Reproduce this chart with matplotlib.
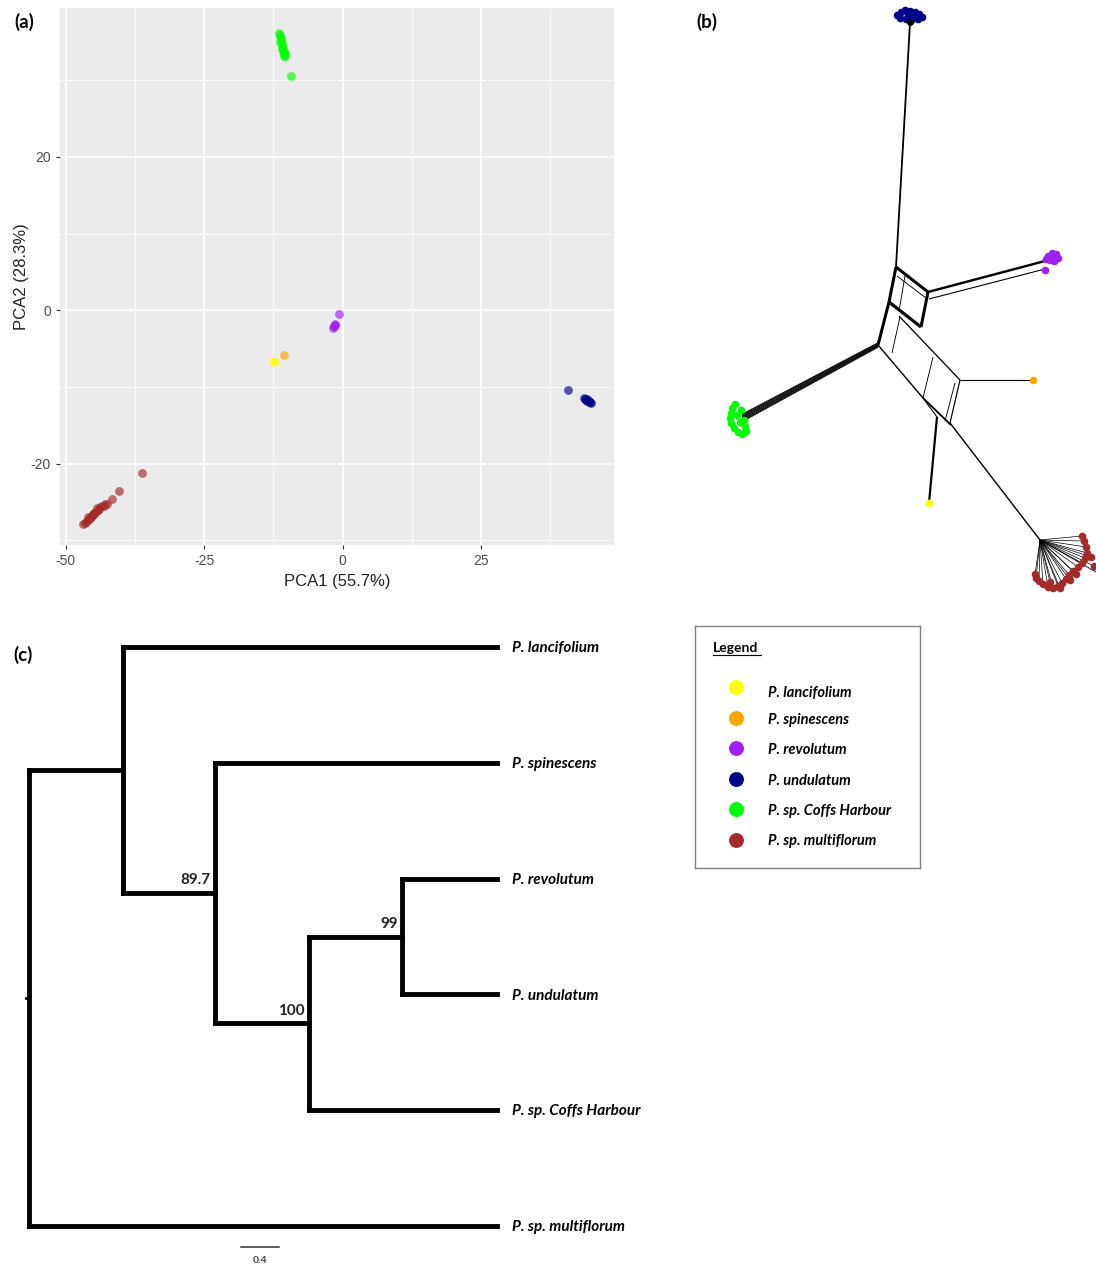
import numpy as np
import matplotlib
matplotlib.use("Agg")
import matplotlib.pyplot as plt
from matplotlib.collections import LineCollection

plt.rcParams['font.family'] = ['Lato', 'DejaVu Sans']
plt.rcParams['axes.unicode_minus'] = False

# ---- species / colours
species = ['P. lancifolium', 'P. spinescens', 'P. revolutum', 'P. undulatum',
           'P. sp. Coffs Harbour', 'P. sp. multiflorum']
colors = ['#FFFF00', '#FFA500', '#A020F0', '#00008B', '#00FF00', '#A52A2A']

# ---- (a) PCA scores
pca_lanc_x = [-12.4, -12.3]
pca_lanc_y = [-6.75, -6.6]
pca_spin_x = [-10.5]
pca_spin_y = [-5.8]
pca_revo_x = [-1.7, -1.5, -1.4, -1.6, -1.3, -0.6]
pca_revo_y = [-2.3, -2.0, -1.8, -2.1, -1.9, -0.5]
pca_undu_x = [40.7, 43.5, 43.8, 44.0, 44.2, 44.4, 44.6, 44.8, 44.1, 44.5]
pca_undu_y = [-10.4, -11.5, -11.6, -11.7, -11.8, -11.9, -12.0, -12.1, -11.6, -11.8]
pca_coffs_x = [-11.4, -11.3, -11.2, -11.1, -11.2, -11.0, -10.9, -10.8, -10.9, -10.7,
               -10.6, -10.5, -10.6, -10.4, -10.3, -9.3]
pca_coffs_y = [36.2, 35.9, 35.6, 35.3, 35.0, 34.8, 34.5, 34.2, 34.0, 33.8,
               33.6, 33.4, 33.2, 33.5, 33.1, 30.6]
pca_multi_x = [-46.8, -46.5, -46.3, -46.0, -45.8, -45.6, -45.4, -45.2, -45.0, -44.8,
               -44.6, -44.4, -44.2, -44.0, -43.7, -43.4, -43.1, -42.8, -42.5, -41.7,
               -40.3, -36.2, -45.9, -45.1, -44.3]
pca_multi_y = [-27.9, -27.7, -27.6, -27.4, -27.2, -27.1, -26.9, -26.8, -26.6, -26.5,
               -26.3, -26.2, -26.0, -25.9, -25.7, -25.5, -25.5, -25.3, -25.2, -24.6,
               -23.6, -21.2, -27.0, -26.5, -25.8]
pca_x = [pca_lanc_x, pca_spin_x, pca_revo_x, pca_undu_x, pca_coffs_x, pca_multi_x]
pca_y = [pca_lanc_y, pca_spin_y, pca_revo_y, pca_undu_y, pca_coffs_y, pca_multi_y]

# ---- (b) network layout (coordinates)
net_edges = [  # x0, y0, x1, y1, width
    (910, 23, 896, 267, 1.8),
    (896, 267, 928, 292, 3.0), (928, 292, 921, 327, 3.0),
    (921, 327, 889, 302, 3.2), (889, 302, 896, 267, 3.0),
    (897, 276, 926, 298, 0.9), (905, 276, 899, 311, 0.9),
    (889, 302, 878, 345, 3.0),
    (928, 292, 1045, 261, 2.4), (929, 299, 1045, 269, 1.1),
    (878, 345, 923, 398, 1.4), (899, 316, 960, 380, 1.3),
    (900, 317, 892, 353, 0.9), (933, 357, 923, 398, 0.9),
    (960, 380, 950, 423, 1.2), (955, 383, 945, 421, 0.9),
    (923, 398, 951, 425, 1.8), (923, 398, 937, 417, 1.1),
    (960, 380, 1033, 380, 1.1),
    (937, 417, 929, 503, 2.2),
    (950, 423, 1040, 540, 1.4),
]
green_bundle = [-3, -2, -1, 0, 1, 2, 3]
net_blue_x = [897, 901, 905, 910, 915, 919, 922, 918, 912, 906, 900, 908, 914]
net_blue_y = [15, 12, 10, 11, 12, 14, 17, 19, 19, 19, 18, 15, 16]
net_purple_x = [1048, 1052, 1056, 1058, 1054, 1050, 1046, 1055, 1045]
net_purple_y = [256, 253, 254, 258, 261, 260, 259, 257, 270]
net_green_x = [735, 732, 731, 730, 731, 734, 738, 742, 746, 745, 741, 737, 740, 744]
net_green_y = [404, 408, 413, 418, 423, 428, 432, 434, 431, 426, 410, 415, 422, 420]
net_orange_x, net_orange_y = [1033], [380]
net_yellow_x, net_yellow_y = [929], [503]
net_red_x = [1082, 1084, 1086, 1087, 1085, 1082, 1078, 1073, 1069, 1066, 1062, 1058,
             1053, 1048, 1043, 1039, 1036, 1035, 1091, 1094, 1070, 1060, 1076, 1050]
net_red_y = [536, 541, 547, 553, 558, 563, 567, 571, 575, 579, 583, 586,
             588, 587, 584, 581, 578, 574, 557, 566, 580, 588, 574, 582]

# ---- (c) tree
tree_edges = [
    ('root', 'A', 1.0), ('root', 'P. sp. multiflorum', 4.98),
    ('A', 'P. lancifolium', 3.98), ('A', 'B', 0.98),
    ('B', 'P. spinescens', 3.0), ('B', 'C', 1.0),
    ('C', 'D', 0.99), ('C', 'P. sp. Coffs Harbour', 2.0),
    ('D', 'P. revolutum', 1.01), ('D', 'P. undulatum', 1.01),
]
support = {'B': '89.7', 'C': '100', 'D': '99'}
scale_len = 0.4

W, H = 1096, 1267
fig = plt.figure(figsize=(W / 100, H / 100), dpi=100)

# ================= (a)
ax = fig.add_axes([60 / W, 1 - 545 / H, 554 / W, 537 / H])
ax.set_facecolor('#EBEBEB')
for xs, ys, c in zip(pca_x, pca_y, colors):
    ax.scatter(xs, ys, s=40, color=c, alpha=0.65, lw=0, zorder=3)
ax.set_xlim(-51, 49)
ax.set_ylim(-30.6, 39.4)
ax.set_xticks([-50, -25, 0, 25])
ax.set_yticks([-20, 0, 20])
ax.set_xticks([-37.5, -12.5, 12.5, 37.5], minor=True)
ax.set_yticks([-30, -10, 10, 30], minor=True)
ax.grid(True, which='major', color='white', lw=1.1)
ax.grid(True, which='minor', color='white', lw=0.55)
ax.set_axisbelow(True)
for s in ax.spines.values():
    s.set_visible(False)
ax.tick_params(which='major', length=3, color='#333333', labelcolor='#4D4D4D',
               labelsize=10, width=0.8)
ax.tick_params(which='minor', length=0)
for lab in ax.get_xticklabels() + ax.get_yticklabels():
    lab.set_family('Liberation Sans')
ax.set_xlabel('PCA1 (55.7%)', family='Liberation Sans', fontsize=12, labelpad=4,
              color='#222222')
ax.set_ylabel('PCA2 (28.3%)', family='Liberation Sans', fontsize=12, labelpad=1,
              color='#222222')

# ================= (b)
axb = fig.add_axes([680 / W, 1 - 600 / H, 416 / W, 600 / H])
axb.set_xlim(680, 1096)
axb.set_ylim(600, 0)
axb.axis('off')
segs = [[(e[0], e[1]), (e[2], e[3])] for e in net_edges]
axb.add_collection(LineCollection(segs, colors='black',
                                  linewidths=[e[4] * 0.72 for e in net_edges], zorder=2))
gsegs = [[(878, 345 + d * 0.7), (742, 418 + d * 1.2)] for d in green_bundle]
axb.add_collection(LineCollection(gsegs, colors='#111111', linewidths=0.9, zorder=2))
fan = [[(1040, 540), (x, y)] for x, y in zip(net_red_x, net_red_y)]
axb.add_collection(LineCollection(fan, colors='black', linewidths=0.5, zorder=2))
axb.plot([1040, 1096], [540, 572], color='black', lw=0.6, zorder=2)
net_pts = [(net_yellow_x, net_yellow_y), (net_orange_x, net_orange_y),
           (net_purple_x, net_purple_y), (net_blue_x, net_blue_y),
           (net_green_x, net_green_y), (net_red_x, net_red_y)]
for (xs, ys), c in zip(net_pts, colors):
    axb.scatter(xs, ys, s=30, color=c, lw=0, zorder=3)
axb.plot([910], [22], 'o', color='black', ms=4, zorder=4)

# ================= legend box
axl = fig.add_axes([695 / W, 1 - 868 / H, 225 / W, 242 / H])
axl.set_xlim(0, 225)
axl.set_ylim(242, 0)
axl.set_xticks([])
axl.set_yticks([])
for s in axl.spines.values():
    s.set_color('#808080')
    s.set_linewidth(1.0)
axl.text(18, 22, 'Legend', fontsize=10, fontweight='bold', va='center', ha='left')
axl.plot([18, 66], [29, 29], color='black', lw=0.8)
for i, (name, c) in enumerate(zip(species, colors)):
    yy = 61 + i * 30.5
    axl.scatter([41], [yy], s=115, color=c, lw=0)
    axl.text(73, yy + (6 if i == 0 else 2), name, fontsize=10.5, fontweight='bold',
             style='italic', va='center', ha='left')

# ================= (c)
children = {}
blen = {}
for p, ch, l in tree_edges:
    children.setdefault(p, []).append(ch)
    blen[ch] = l
tip_order = ['P. lancifolium', 'P. spinescens', 'P. revolutum', 'P. undulatum',
             'P. sp. Coffs Harbour', 'P. sp. multiflorum']
node_x = {'root': 0.0}
node_y = {}


def layout(n):
    for ch in children.get(n, []):
        node_x[ch] = node_x[n] + blen[ch]
        layout(ch)
    if n in children:
        ys = [node_y[ch] for ch in children[n]]
        node_y[n] = (min(ys) + max(ys)) / 2
    else:
        node_y[n] = tip_order.index(n)


layout('root')

axc = fig.add_axes([0, 0, 1, 667 / H])
axc.set_xlim(-29 / 94, (W - 29) / 94)
axc.set_ylim(5 + 41 / 115.8, -47 / 115.8)
axc.axis('off')
tsegs = []
for n, chs in children.items():
    ys = [node_y[ch] for ch in chs]
    tsegs.append([(node_x[n], min(ys)), (node_x[n], max(ys))])
    for ch in chs:
        tsegs.append([(node_x[n], node_y[ch]), (node_x[ch], node_y[ch])])
axc.add_collection(LineCollection(tsegs, colors='black', linewidths=3.5,
                                  capstyle='projecting', joinstyle='miter'))
axc.plot([node_x['root'] - 0.03, node_x['root']], [node_y['root']] * 2,
         color='black', lw=2)
for t in tip_order:
    axc.text(node_x[t] + 0.16, node_y[t] + 0.01, t, fontsize=11, fontweight='bold',
             style='italic', va='center', ha='left')
for n, s in support.items():
    axc.text(node_x[n] - 0.05, node_y[n] - 0.05, s, fontsize=11, fontweight='bold',
             va='bottom', ha='right', color='#222222')
sx0 = (241 - 29) / 94
axc.plot([sx0, sx0 + scale_len], [5.18, 5.18], color='#333333', lw=1.1)
axc.text(sx0 + scale_len / 2, 5.295, str(scale_len), fontsize=7.5, fontweight='bold',
         ha='center', va='center', color='#444444')

# panel letters
for lab, x, y in [('(a)', 24, 22), ('(b)', 707, 22), ('(c)', 23, 655)]:
    fig.text(x / W, 1 - y / H, lab, fontsize=13.5, fontweight='bold', ha='center',
             va='center')

fig.savefig('out.png', dpi=100)
